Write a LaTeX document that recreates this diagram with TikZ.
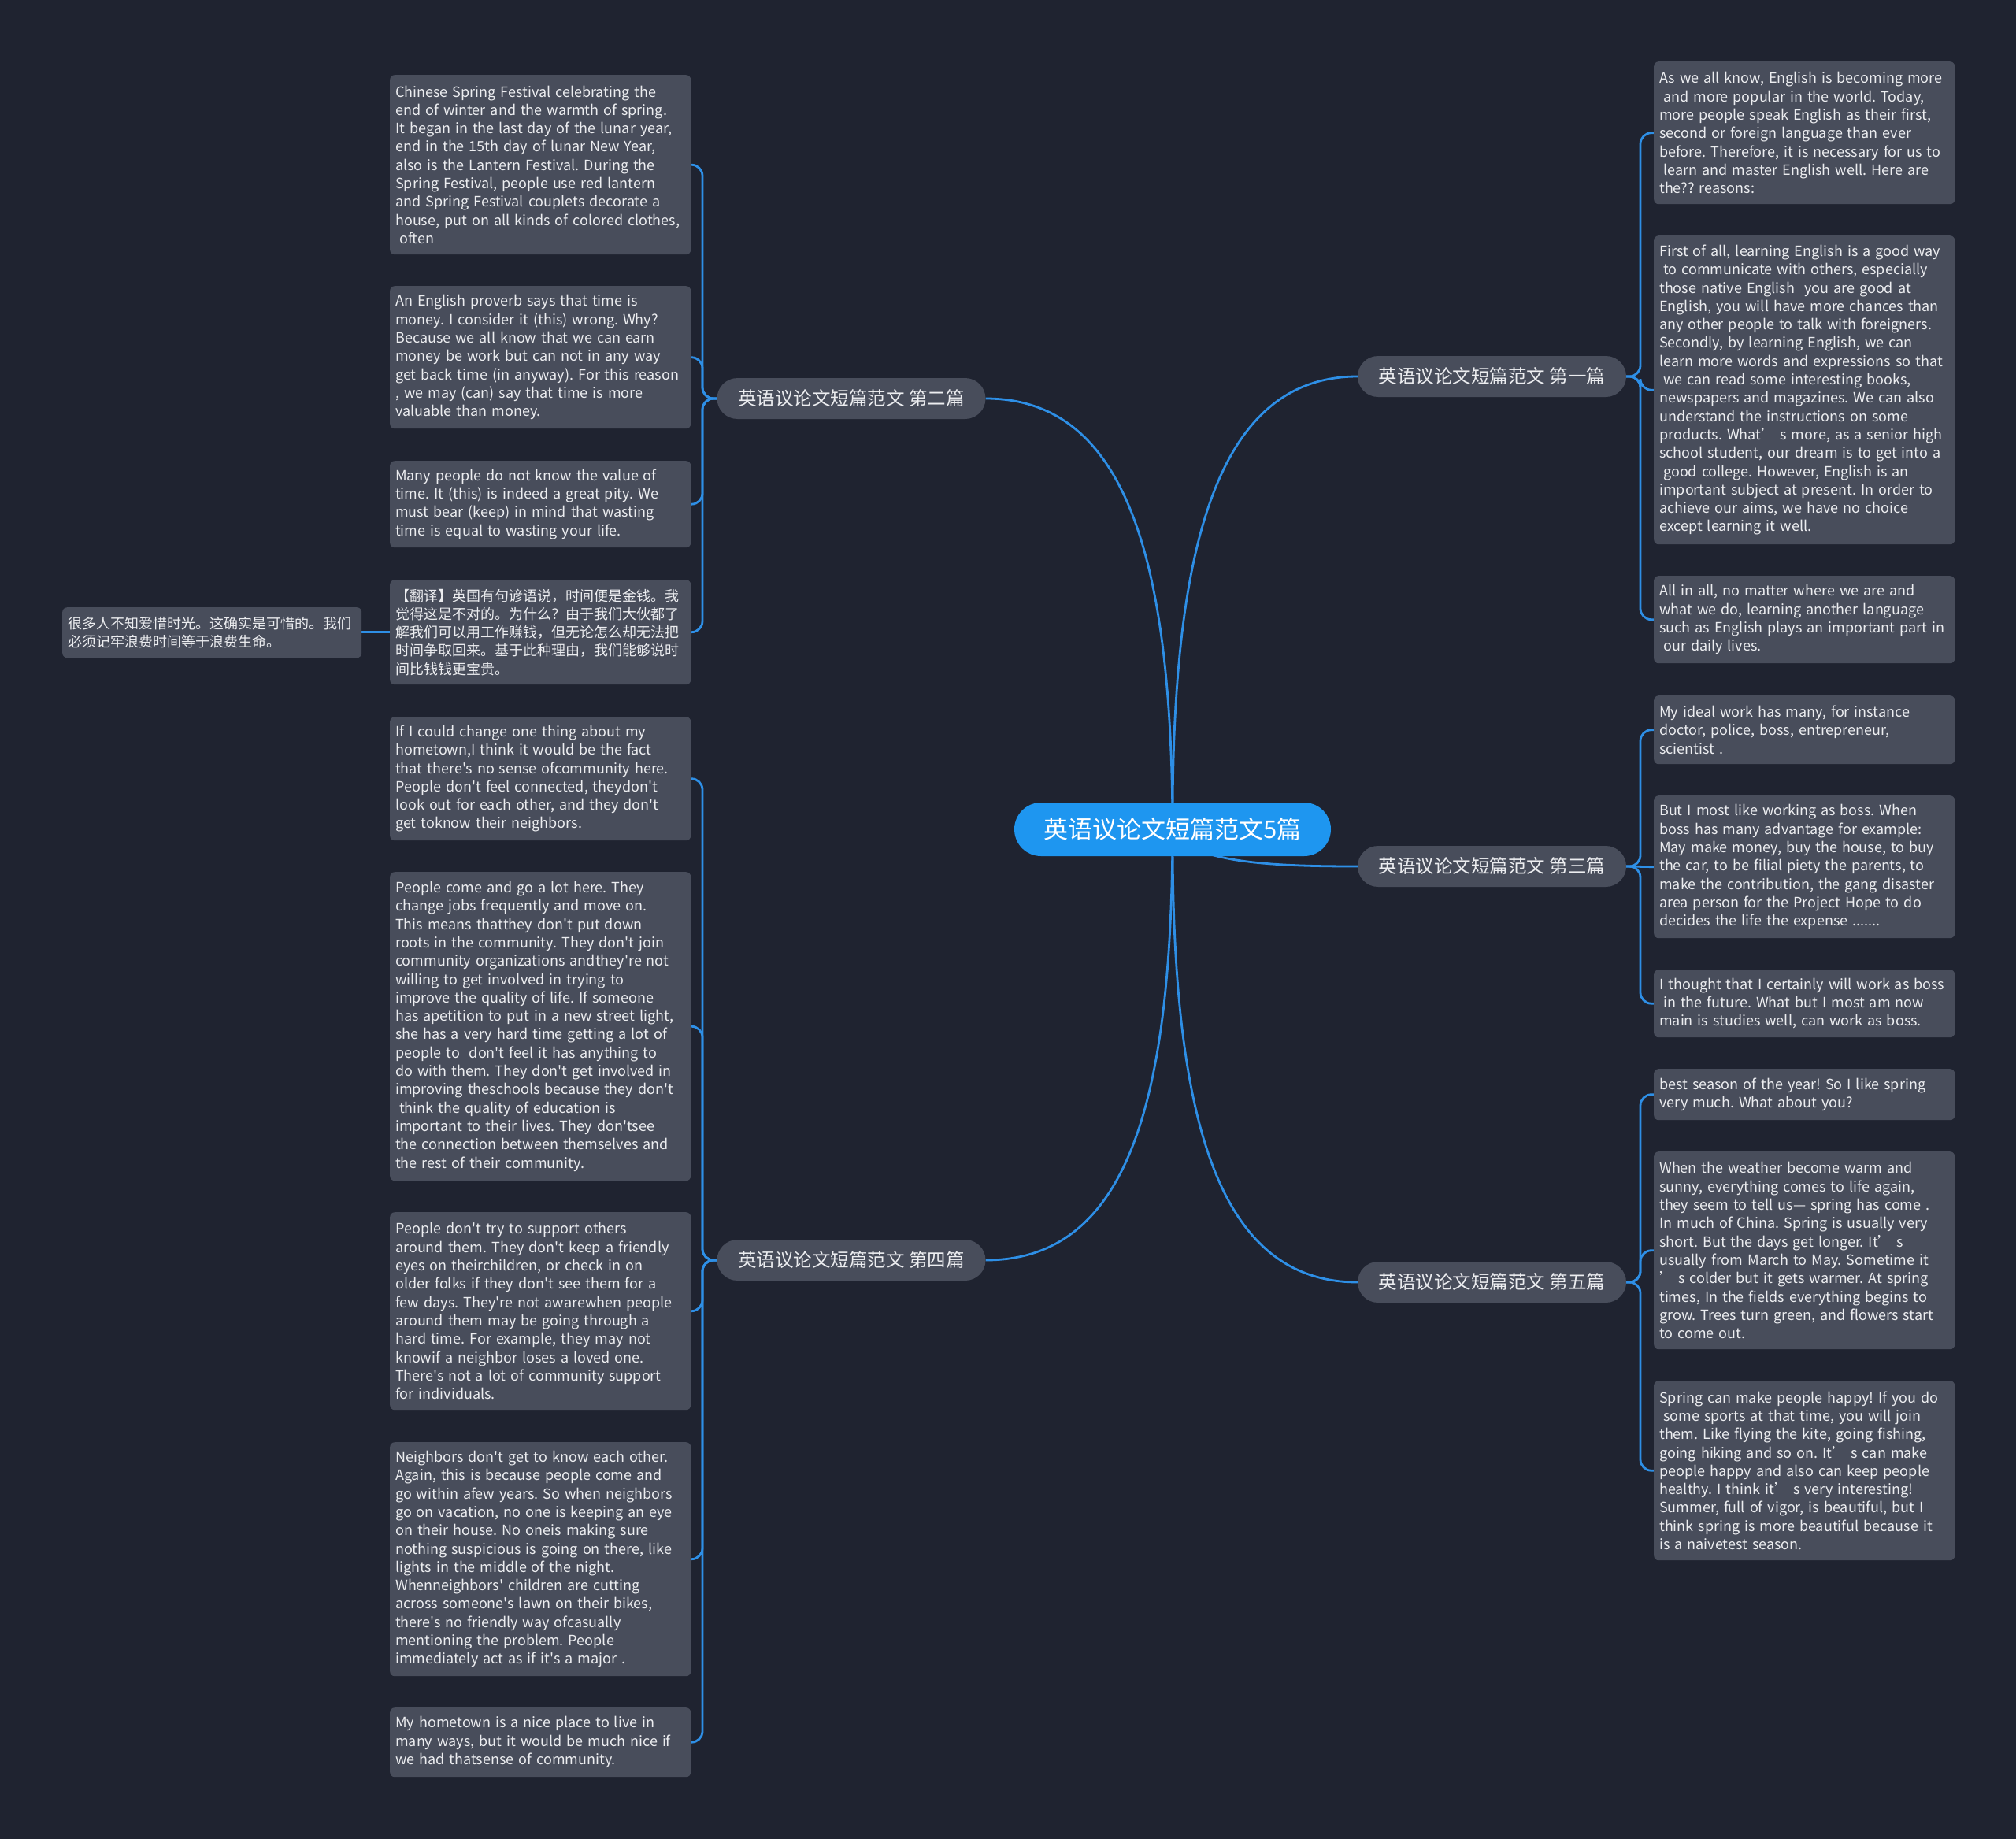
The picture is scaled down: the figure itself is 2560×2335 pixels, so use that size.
\documentclass[tikz,border=0pt]{standalone}
\usepackage{fontspec}
\newfontfamily\cjkf{Noto Sans CJK SC}
\definecolor{bgc}{HTML}{1F2330}
\definecolor{leafc}{HTML}{484D5B}
\definecolor{centc}{HTML}{1E96F0}
\definecolor{linec}{HTML}{2E8FE6}
\definecolor{txtc}{HTML}{ECEDF0}
\pgfdeclarelayer{bglayer}
\pgfdeclarelayer{linelayer}
\pgfsetlayers{bglayer,linelayer,main}
\newcommand{\leaffont}{\cjkf\frenchspacing\fontsize{18}{23.3}\selectfont}
\newcommand{\ind}{\hspace*{5pt}}
\tikzset{
  leaf/.style={fill=leafc, rounded corners=6pt, anchor=north west, inner xsep=7pt, inner ysep=0pt,
    text width=368pt, align=left, font=\leaffont, text=txtc},
  branch/.style={fill=leafc, rounded corners=26pt, minimum width=341pt, minimum height=52pt,
    inner sep=0pt, font=\cjkf\fontsize{23.5}{28}\selectfont, text=txtc},
  central/.style={fill=centc, rounded corners=34pt, minimum width=402pt, minimum height=68pt,
    inner sep=0pt, font=\cjkf\fontsize{31}{36}\selectfont, text=white},
  conn/.style={draw=linec, line width=2.8pt},
}
\begin{document}
\begin{tikzpicture}[x=1pt,y=-1pt]
\begin{pgfonlayer}{bglayer}
\fill[bgc] (0,0) rectangle (2560,2335);
\end{pgfonlayer}
\useasboundingbox (0,0) rectangle (2560,2335);

\coordinate (vl) at (892,0);
\coordinate (vr) at (2083,0);

% central and branches
\node[central] (c) at (1489,1053) {英语议论文短篇范文5篇};
\node[branch] (b1) at (1894.5,478) {英语议论文短篇范文 第一篇};
\node[branch] (b2) at (1081,506) {英语议论文短篇范文 第二篇};
\node[branch] (b3) at (1894.5,1100) {英语议论文短篇范文 第三篇};
\node[branch] (b4) at (1081,1600) {英语议论文短篇范文 第四篇};
\node[branch] (b5) at (1894.5,1628) {英语议论文短篇范文 第五篇};

% left: second
\node[leaf, minimum height=228pt] (l2a) at (495,95) {Chinese Spring Festival celebrating the\\
end of winter and the warmth of spring.\\
It began in the last day of the lunar year,\\
end in the 15th day of lunar New Year,\\
also is the Lantern Festival. During the\\
Spring Festival, people use red lantern\\
and Spring Festival couplets decorate a\\
house, put on all kinds of colored clothes,\\
\ind often};
\node[leaf, minimum height=181pt] (l2b) at (495,363) {An English proverb says that time is\\
money. I consider it (this) wrong. Why?\\
Because we all know that we can earn\\
money be work but can not in any way\\
get back time (in anyway). For this reason\\
, we may (can) say that time is more\\
valuable than money.};
\node[leaf, minimum height=110pt] (l2c) at (495,585) {Many people do not know the value of\\
time. It (this) is indeed a great pity. We\\
must bear (keep) in mind that wasting\\
time is equal to wasting your life.};
\node[leaf, minimum height=133pt] (l2d) at (495,736) {【翻译】英国有句谚语说，时间便是金钱。我\\
觉得这是不对的。为什么？由于我们大伙都了\\
解我们可以用工作赚钱，但无论怎么却无法把\\
时间争取回来。基于此种理由，我们能够说时\\
间比钱钱更宝贵。};
\node[leaf, text width=366pt, minimum height=64pt] (far) at (79,771) {很多人不知爱惜时光。这确实是可惜的。我们\\
必须记牢浪费时间等于浪费生命。};

% left: fourth
\node[leaf, minimum height=157pt] (l4a) at (495,910) {If I could change one thing about my\\
hometown,I think it would be the fact\\
that there's no sense ofcommunity here.\\
People don't feel connected, theydon't\\
look out for each other, and they don't\\
get toknow their neighbors.};
\node[leaf, minimum height=392pt] (l4b) at (495,1107) {People come and go a lot here. They\\
change jobs frequently and move on.\\
This means thatthey don't put down\\
roots in the community. They don't join\\
community organizations andthey're not\\
willing to get involved in trying to\\
improve the quality of life. If someone\\
has apetition to put in a new street light,\\
she has a very hard time getting a lot of\\
people to \ don't feel it has anything to\\
do with them. They don't get involved in\\
improving theschools because they don't\\
\ind think the quality of education is\\
important to their lives. They don'tsee\\
the connection between themselves and\\
the rest of their community.};
\node[leaf, minimum height=251pt] (l4c) at (495,1539) {People don't try to support others\\
around them. They don't keep a friendly\\
eyes on theirchildren, or check in on\\
older folks if they don't see them for a\\
few days. They're not awarewhen people\\
around them may be going through a\\
hard time. For example, they may not\\
knowif a neighbor loses a loved one.\\
There's not a lot of community support\\
for individuals.};
\node[leaf, minimum height=297pt] (l4d) at (495,1831) {Neighbors don't get to know each other.\\
Again, this is because people come and\\
go within afew years. So when neighbors\\
go on vacation, no one is keeping an eye\\
on their house. No oneis making sure\\
nothing suspicious is going on there, like\\
lights in the middle of the night.\\
Whenneighbors' children are cutting\\
across someone's lawn on their bikes,\\
there's no friendly way ofcasually\\
mentioning the problem. People\\
immediately act as if it's a major .};
\node[leaf, minimum height=88pt] (l4e) at (495,2168) {My hometown is a nice place to live in\\
many ways, but it would be much nice if\\
we had thatsense of community.};

% right: first
\node[leaf, minimum height=181pt] (r1a) at (2100,78) {As we all know, English is becoming more\\
\ind and more popular in the world. Today,\\
more people speak English as their first,\\
second or foreign language than ever\\
before. Therefore, it is necessary for us to\\
\ind learn and master English well. Here are\\
the?? reasons:};
\node[leaf, minimum height=392pt] (r1b) at (2100,299) {First of all, learning English is a good way\\
\ind to communicate with others, especially\\
those native English \ you are good at\\
English, you will have more chances than\\
any other people to talk with foreigners.\\
Secondly, by learning English, we can\\
learn more words and expressions so that\\
\ind we can read some interesting books,\\
newspapers and magazines. We can also\\
understand the instructions on some\\
products. What’ s more, as a senior high\\
school student, our dream is to get into a\\
\ind good college. However, English is an\\
important subject at present. In order to\\
achieve our aims, we have no choice\\
except learning it well.};
\node[leaf, minimum height=111pt] (r1c) at (2100,731) {All in all, no matter where we are and\\
what we do, learning another language\\
such as English plays an important part in\\
\ind our daily lives.};

% right: third
\node[leaf, minimum height=87pt] (r3a) at (2100,883) {My ideal work has many, for instance\\
doctor, police, boss, entrepreneur,\\
scientist .};
\node[leaf, minimum height=181pt] (r3b) at (2100,1010) {But I most like working as boss. When\\
boss has many advantage for example:\\
May make money, buy the house, to buy\\
the car, to be filial piety the parents, to\\
make the contribution, the gang disaster\\
area person for the Project Hope to do\\
decides the life the expense .......};
\node[leaf, minimum height=86pt] (r3c) at (2100,1231) {I thought that I certainly will work as boss\\
\ind in the future. What but I most am now\\
main is studies well, can work as boss.};

% right: fifth
\node[leaf, minimum height=65pt] (r5a) at (2100,1357) {best season of the year! So I like spring\\
very much. What about you?};
\node[leaf, minimum height=251pt] (r5b) at (2100,1462) {When the weather become warm and\\
sunny, everything comes to life again,\\
they seem to tell us— spring has come .\\
In much of China. Spring is usually very\\
short. But the days get longer. It’ s\\
usually from March to May. Sometime it\\
’ s colder but it gets warmer. At spring\\
times, In the fields everything begins to\\
grow. Trees turn green, and flowers start\\
to come out.};
\node[leaf, minimum height=228pt] (r5c) at (2100,1753) {Spring can make people happy! If you do\\
\ind some sports at that time, you will join\\
them. Like flying the kite, going fishing,\\
going hiking and so on. It’ s can make\\
people happy and also can keep people\\
healthy. I think it’ s very interesting!\\
Summer, full of vigor, is beautiful, but I\\
think spring is more beautiful because it\\
is a naivetest season.};

\begin{pgfonlayer}{linelayer}
% central to branches
\draw[conn] (c.center) .. controls (1488,708) and (1540,478) .. (b1.west);
\draw[conn] (c.center) .. controls (1488,725) and (1436,506) .. (b2.east);
\draw[conn] (c.center) .. controls (1510,1095) and (1610,1100) .. (b3.west);
\draw[conn] (c.center) .. controls (1488,1390) and (1436,1600) .. (b4.east);
\draw[conn] (c.center) .. controls (1488,1405) and (1540,1628) .. (b5.west);
% brackets
\begin{scope}[rounded corners=14pt]
\foreach \lf in {l2a,l2b,l2c,l2d}
  \draw[conn] (b2.west) -- (b2.west -| vl) -- (vl |- \lf.east) -- (\lf.east);
\foreach \lf in {l4a,l4b,l4c,l4d,l4e}
  \draw[conn] (b4.west) -- (b4.west -| vl) -- (vl |- \lf.east) -- (\lf.east);
\foreach \lf in {r1a,r1b,r1c}
  \draw[conn] (b1.east) -- (b1.east -| vr) -- (vr |- \lf.west) -- (\lf.west);
\foreach \lf in {r3a,r3c}
  \draw[conn] (b3.east) -- (b3.east -| vr) -- (vr |- \lf.west) -- (\lf.west);
\foreach \lf in {r5a,r5b,r5c}
  \draw[conn] (b5.east) -- (b5.east -| vr) -- (vr |- \lf.west) -- (\lf.west);
\end{scope}
\draw[conn] (b3.east) -- (r3b.west);
\draw[conn] (l2d.west) -- (l2d.west -| far.east);
\end{pgfonlayer}
\end{tikzpicture}
\end{document}
